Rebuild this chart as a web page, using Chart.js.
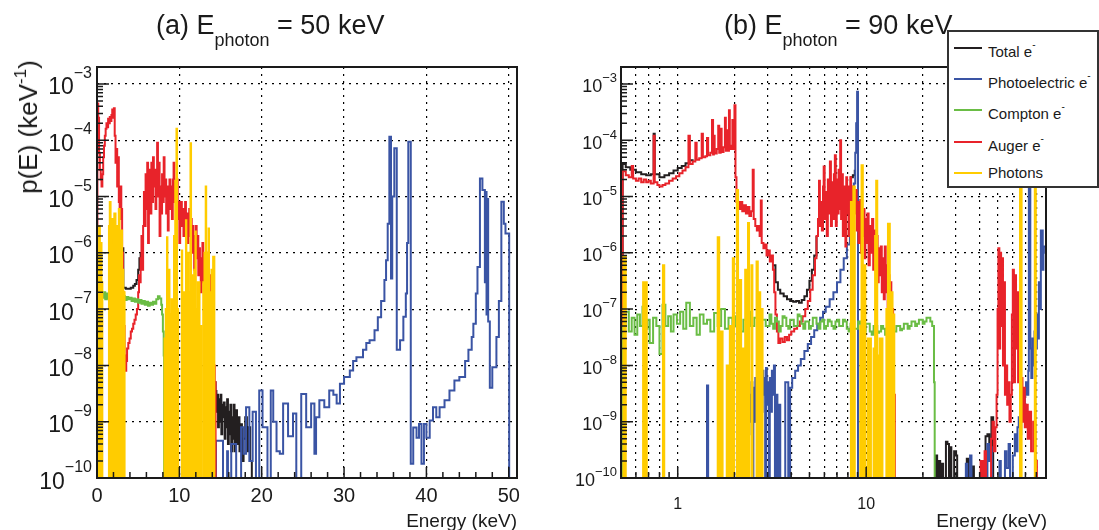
<!DOCTYPE html>
<html>
<head>
<meta charset="utf-8">
<script src="https://cdn.jsdelivr.net/npm/chart.js@4.4.1/dist/chart.umd.min.js"></script>
<style>
  html, body { margin: 0; padding: 0; background: #fff; }
  body { width: 1099px; height: 530px; position: relative; overflow: hidden;
         font-family: "Liberation Sans", Arial, Helvetica, sans-serif; color: #1a1a1a; }
  canvas { position: absolute; top: 0; }
  #chartA { left: 0; }
  #chartB { left: 540px; }
  .title { position: absolute; top: 12px; font-size: 27px; line-height: 27px; white-space: nowrap; }
  .title .sub { font-size: 18px; position: relative; top: 12px; }
  .xtitle { position: absolute; top: 511px; font-size: 19px; line-height: 19px; white-space: nowrap; text-align: right; }
  .ytitle { position: absolute; left: 30px; top: 127px; font-size: 26px; line-height: 26px; white-space: nowrap;
            transform: translate(-50%, -50%) rotate(-90deg); }
  .ytitle .sup { font-size: 17px; position: relative; top: -11px; }
  .ylab { position: absolute; white-space: nowrap; text-align: right; }
  #legend { position: absolute; left: 947px; top: 30px; width: 152px; height: 158px; box-sizing: border-box;
            border: 2px solid #333; background: #fff; z-index: 2; }
  #legend .row { position: absolute; left: 0; height: 20px; line-height: 20px; font-size: 15px; white-space: nowrap; }
  #legend .swatch { position: absolute; left: 5px; top: 9px; width: 28px; height: 2px; }
  #legend .label { position: absolute; left: 39px; top: 0; }
  #legend .label sup { font-size: 10px; position: relative; top: -3px; }
</style>
</head>
<body>
<canvas id="chartA" width="530" height="530"></canvas>
<canvas id="chartB" width="559" height="530"></canvas>

<div class="title" style="left:156px">(a) E<span class="sub">photon</span> = 50 keV</div>
<div class="title" style="left:724px">(b) E<span class="sub">photon</span> = 90 keV</div>
<div class="ytitle">p(E) (keV<span class="sup">-1</span>)</div>
<div class="xtitle" style="right:582px">Energy (keV)</div>
<div class="xtitle" style="right:52px">Energy (keV)</div>

<div id="legend">
  <div class="row" style="top:6px"><span class="swatch" style="background:#231f20"></span><span class="label">Total e<sup>-</sup></span></div>
  <div class="row" style="top:37px"><span class="swatch" style="background:#3a54a4"></span><span class="label">Photoelectric e<sup>-</sup></span></div>
  <div class="row" style="top:68px"><span class="swatch" style="background:#6abd45"></span><span class="label">Compton e<sup>-</sup></span></div>
  <div class="row" style="top:100px"><span class="swatch" style="background:#e8232a"></span><span class="label">Auger e<sup>-</sup></span></div>
  <div class="row" style="top:131px"><span class="swatch" style="background:#ffcc00"></span><span class="label">Photons</span></div>
</div>

<script>
// ---- axis settings ----
const Y_MIN = 1e-10;
const Y_MAX = 2e-3;
const yDecades = [1e-10, 1e-9, 1e-8, 1e-7, 1e-6, 1e-5, 1e-4, 1e-3];
const xTicksA = [0, 10, 20, 30, 40, 50];
const xGridB = [0.6, 0.7, 0.8, 1, 2, 3, 4, 5, 6, 7, 8, 9, 10, 20, 30, 40, 50, 60, 70, 80];
const xLabelsB = [1, 10];

// ---- (a) E_photon = 50 keV : bin left edges (keV) and p(E) (1/keV) ----
const aTotalE = [3.1, 3.2, 3.5, 3.8, 4.1, 4.4, 4.6, 4.8, 5.0, 5.15,
  5.3, 5.35, 14.3, 14.4, 14.5, 14.6, 14.7, 14.8, 14.9, 15.0,
  15.1, 15.2, 15.3, 15.4, 15.5, 15.6, 15.7, 15.8, 15.9, 16.0,
  16.1, 16.2, 16.3, 16.4, 16.5, 16.6, 16.7, 16.8, 16.9, 17.0,
  17.1, 17.3, 17.4, 17.6, 17.8, 18.0, 18.2, 18.4, 18.6, 18.8,
  18.9];
const aTotalP = [1.2e-6, 2.4e-7, 2.3e-7, 2.3e-7, 2.4e-7, 2.6e-7, 2.8e-7, 3.3e-7, 5e-7, 8e-7,
  1e-6, null, 5e-9, 3.5e-9, 1.5e-9, 3e-9, 8e-10, 2.5e-9, 1e-9, 3e-9,
  6e-10, 2e-9, 1.2e-9, 2.2e-9, 5e-10, 1.8e-9, 8e-10, 2.5e-9, 4e-10, 1.5e-9,
  6e-10, 2e-9, 3e-10, 1.2e-9, 5e-10, 2e-9, 3e-10, 1e-9, 1.6e-9, 4e-10,
  1.2e-9, 3e-10, 9e-10, 2e-10, 5e-10, 1.2e-9, 3e-10, 8e-10, 2e-10, 0,
  null];

const aPhotoE = [0, 13.15, 13.5, 14.45, 15.3, 15.8, 15.9, 16.3, 16.9, 17.5,
  17.8, 18.1, 18.5, 18.9, 19.3, 19.7, 20.1, 20.7, 21.1, 21.4,
  21.8, 22.2, 22.6, 23.2, 23.8, 24.2, 24.8, 25.4, 26.0, 26.4,
  26.6, 27.0, 27.6, 28.2, 28.7, 29.1, 29.5, 30.0, 30.7, 31.1,
  31.5, 32.3, 32.7, 33.1, 33.7, 34.1, 34.5, 34.9, 35.1, 35.3,
  35.5, 35.7, 35.85, 36.1, 36.4, 36.8, 37.2, 37.5, 37.65, 37.8,
  38.1, 38.4, 38.8, 39.1, 39.4, 39.7, 40.0, 40.4, 40.8, 41.2,
  41.6, 42.2, 42.8, 43.4, 44.0, 44.7, 45.1, 45.5, 45.7, 46.0,
  46.2, 46.5, 46.8, 47.1, 47.2, 47.3, 47.4, 47.5, 47.7, 48.0,
  48.5, 48.8, 49.1, 49.4, 49.6, 50.05, 51];
const aPhotoP = [0, 5.3e-10, 0, 4.6e-10, 0, 3e-10, 0, 4e-10, 0, 8e-10,
  2.7e-10, 1.8e-9, 2e-10, 1.5e-9, 0, 3.6e-9, 8e-10, 0, 3.6e-9, 1e-9,
  3e-10, 2.7e-10, 2.1e-9, 5.5e-10, 1.4e-9, 0, 3.1e-9, 8e-10, 2.1e-9, 2.7e-10,
  1.2e-9, 2.4e-9, 1.8e-9, 3.6e-9, 3e-9, 2.1e-9, 4.7e-9, 6.2e-9, 8.1e-9, 1.2e-8,
  1.4e-8, 1.9e-8, 2.5e-8, 2.8e-8, 4.2e-8, 7.2e-8, 1.4e-7, 3.3e-7, 7.4e-7, 3.3e-6,
  1.15e-4, 3.5e-7, 1e-5, 7.2e-5, 1.9e-8, 2.8e-8, 7.3e-8, 1.9e-7, 1.5e-6, 9.4e-5,
  1.8e-10, 7.9e-10, 5.2e-10, 9.1e-10, 1.8e-10, 9.1e-10, 5.2e-10, 1.05e-9, 1.8e-9, 1.2e-9,
  1.8e-9, 2.4e-9, 3.6e-9, 5.4e-9, 6.2e-9, 1.2e-8, 1.9e-8, 3.2e-8, 5.5e-8, 1.9e-7,
  5.6e-7, 2.1e-5, 1.3e-5, 3e-7, 1.2e-5, 8e-8, 9e-6, 6e-8, 4e-9, 9.3e-9,
  3.2e-8, 1.4e-7, 8.1e-6, 3.3e-6, 2.2e-6, 0, 0];

const aComptonE = [0, 0.1, 0.2, 0.3, 0.4, 0.5, 0.6, 0.8, 1.0, 1.2,
  1.4, 1.6, 1.8, 2.0, 2.2, 2.4, 2.6, 2.8, 3.0, 3.2,
  3.4, 3.6, 3.8, 4.0, 4.2, 4.4, 4.6, 4.8, 5.0, 5.2,
  5.4, 5.6, 5.8, 6.0, 6.2, 6.4, 6.6, 6.8, 7.0, 7.2,
  7.4, 7.6, 7.8, 7.9, 8.0, 8.1, 8.15, 51];
const aComptonP = [1.5e-7, 2.2e-7, 8e-8, 2.4e-7, 1.3e-7, 2.1e-7, 1.6e-7, 2e-7, 1.5e-7, 1.9e-7,
  1.6e-7, 1.8e-7, 1.5e-7, 1.8e-7, 1.6e-7, 1.7e-7, 1.5e-7, 1.75e-7, 1.55e-7, 1.7e-7,
  1.45e-7, 1.65e-7, 1.5e-7, 1.6e-7, 1.4e-7, 1.55e-7, 1.35e-7, 1.5e-7, 1.3e-7, 1.45e-7,
  1.25e-7, 1.4e-7, 1.2e-7, 1.35e-7, 1.15e-7, 1.3e-7, 1.2e-7, 1.35e-7, 1.25e-7, 1.5e-7,
  1.7e-7, 1.55e-7, 1.2e-7, 8e-8, 4e-8, 1.5e-8, 0, 0];

const aAugerE = [0, 0.05, 0.15, 0.25, 0.35, 0.45, 0.55, 0.65, 0.75, 0.85,
  0.95, 1.05, 1.15, 1.25, 1.35, 1.45, 1.55, 1.65, 1.75, 1.85,
  1.95, 2.05, 2.15, 2.25, 2.35, 2.45, 2.55, 2.65, 2.75, 2.85,
  2.95, 3.05, 3.15, 3.25, 3.35, 3.45, 3.55, 3.65, 3.8, 3.95,
  4.1, 4.25, 4.4, 4.55, 4.7, 4.85, 5.0, 5.1, 5.2, 5.3,
  5.4, 5.5, 5.6, 5.7, 5.8, 5.9, 6.0, 6.1, 6.2, 6.3,
  6.4, 6.5, 6.6, 6.7, 6.8, 6.9, 7.0, 7.1, 7.2, 7.3,
  7.4, 7.5, 7.6, 7.7, 7.8, 7.9, 8.0, 8.1, 8.2, 8.3,
  8.4, 8.5, 8.6, 8.7, 8.8, 8.9, 9.0, 9.1, 9.2, 9.3,
  9.4, 9.5, 9.6, 9.7, 9.8, 9.9, 10.0, 10.1, 10.2, 10.3,
  10.4, 10.5, 10.6, 10.7, 10.8, 10.9, 11.0, 11.1, 11.2, 11.3,
  11.4, 11.5, 11.6, 11.7, 11.8, 11.9, 12.0, 12.1, 12.2, 12.3,
  12.4, 12.5, 12.6, 12.7, 12.8, 12.9, 13.0, 13.1, 13.2, 13.3,
  13.4, 13.5, 13.6, 13.7, 13.8, 13.9, 14.0, 14.1, 14.2, 14.3,
  14.4];
const aAugerP = [0, 4.5e-4, 2.5e-4, 6e-5, 3e-5, 2e-5, 1.5e-5, 2.5e-5, 5e-5, 8e-5,
  1.2e-4, 1.6e-4, 2e-4, 1.7e-4, 2.4e-4, 2e-4, 2.6e-4, 2.2e-4, 2.8e-4, 3.5e-4,
  2.5e-4, 3.7e-4, 1.2e-4, 4e-5, 7e-5, 1.5e-5, 5e-5, 8e-6, 4e-6, 1.5e-5,
  6e-6, 1e-6, 2e-7, 5e-8, 1.5e-8, 8e-9, 1.2e-8, 2e-8, 2.5e-8, 3e-8,
  4e-8, 4.5e-8, 5.5e-8, 6.5e-8, 8e-8, 1e-7, 2e-7, 4e-7, 3e-7, 8e-7,
  2e-6, 5e-7, 3e-6, 1.2e-5, 3e-6, 2.5e-5, 6e-6, 4e-5, 1.5e-6, 1e-5,
  3e-5, 5e-6, 4e-5, 8e-6, 5e-5, 1.5e-5, 3e-5, 6e-6, 2e-5, 9e-5,
  1e-5, 4e-5, 2e-6, 1.5e-5, 5e-6, 2.5e-5, 8e-6, 5e-5, 1e-5, 2e-5,
  5e-6, 1.5e-5, 2.5e-6, 1e-5, 2e-5, 6e-6, 1.5e-5, 4e-6, 2e-5, 4e-5,
  8e-6, 1.5e-5, 5e-6, 2e-5, 4e-6, 8e-6, 1.5e-6, 5e-6, 8e-6, 3e-6,
  6e-6, 2e-6, 5e-6, 8e-6, 3e-6, 5e-6, 1.5e-6, 4e-6, 6e-6, 2e-6,
  4e-6, 1e-6, 3e-6, 2e-6, 5e-7, 1.5e-6, 3e-6, 8e-7, 2e-6, 4e-7,
  1.2e-6, 5e-7, 2e-7, 8e-7, 1.5e-6, 3e-7, 8e-7, 1.5e-7, 5e-7, 1e-6,
  2e-7, 6e-7, 1e-7, 4e-7, 5e-8, 2e-7, 1e-7, 3e-8, 1e-8, 5e-9,
  0];

const aPhotonE = [0, 0.15, 0.25, 0.35, 0.45, 0.55, 0.65, 1.45, 1.55, 1.65,
  1.8, 1.95, 2.1, 2.25, 2.4, 2.55, 2.65, 2.75, 2.9, 3.05,
  3.2, 3.35, 8.2, 8.35, 8.5, 8.55, 8.75, 8.8, 9.05, 9.2,
  9.35, 9.4, 9.5, 9.55, 9.65, 9.72, 9.85, 10.3, 10.35, 10.6,
  10.8, 10.85, 11.05, 11.1, 11.35, 11.42, 11.6, 11.8, 11.95, 12.0,
  12.25, 12.45, 12.65, 12.9, 13.05, 13.1, 13.2, 13.26, 13.45, 13.55,
  13.6, 13.9, 14.1, 14.25, 51];
const aPhotonP = [0, 1e-6, 3e-6, 8e-7, 1.5e-6, 3e-7, 0, 3e-6, 8e-6, 2e-6,
  4e-6, 1.5e-6, 5e-6, 1.2e-6, 3e-6, 8e-7, 6e-6, 1e-6, 2.5e-6, 5e-7,
  2e-7, 0, 3e-8, 1e-7, 1.9e-6, 1e-7, 5e-7, 8e-8, 1.5e-7, 6e-8,
  2e-6, 1e-7, 1.9e-5, 2e-7, 1.6e-4, 1e-7, 0, 1.1e-6, 2e-7, 5e-8,
  3.8e-6, 3e-7, 1e-6, 2e-7, 8.8e-5, 4e-7, 2e-7, 5e-7, 2.4e-6, 1e-7,
  3e-7, 5e-8, 0, 3e-7, 1e-6, 2e-7, 1.5e-5, 4e-7, 1e-6, 2.7e-6,
  2e-7, 5e-7, 8.5e-7, 0, 0];

// ---- (b) E_photon = 90 keV ----
const bTotalE = [0.5, 0.51, 0.53, 0.56, 0.6, 0.64, 0.68, 0.72, 0.745, 0.755,
  0.8, 0.85, 0.9, 0.95, 1.0, 1.05, 1.1, 1.15, 1.2, 1.22,
  3.2, 3.3, 3.4, 3.5, 3.65, 3.8, 3.95, 4.1, 4.25, 4.4,
  4.55, 4.7, 4.85, 5.0, 5.15, 5.3, 5.45, 5.5, 8.2, 8.3,
  8.5, 8.7, 8.8, 23.3, 23.4, 23.8, 24.3, 24.7, 25.2, 25.6,
  26.5, 27.0, 27.5, 27.8, 28.3, 29.3, 30.0, 30.4, 30.5, 33.5,
  34.2, 35.0, 36.5, 37.3, 43.0, 44.0, 45.0, 46.2, 47.2, 47.3];
const bTotalP = [0, 3.8e-5, 3.3e-5, 3e-5, 2.7e-5, 2.5e-5, 2.4e-5, 2.5e-5, 1.3e-4, 2.5e-5,
  2.2e-5, 2.4e-5, 2.6e-5, 2.9e-5, 3.2e-5, 3.5e-5, 3.9e-5, 4.4e-5, 4.6e-5, null,
  6e-7, 3e-7, 2.2e-7, 1.9e-7, 1.7e-7, 1.5e-7, 1.4e-7, 1.35e-7, 1.4e-7, 1.3e-7,
  1.45e-7, 1.7e-7, 2.2e-7, 3.2e-7, 5e-7, 9e-7, 2e-6, null, 8e-6, 2.2e-5,
  2.4e-5, 3e-5, null, 0, 2.5e-10, 0, 2e-10, 0, 1.8e-10, 0,
  4.4e-10, 4e-10, 0, 3.5e-10, 0, 3e-10, 2.5e-10, 0, null, 0,
  2.2e-10, 0, 1.6e-10, 0, 5.5e-10, 6e-10, 3e-10, 1.2e-9, 0, null];

const bPhotoE = [0.5, 1.43, 1.45,
  2.07, 2.1, 2.13, 2.16, 2.19, 2.22, 2.25, 2.28, 2.31, 2.34,
  2.37, 2.4, 2.43, 2.46, 2.49, 2.52, 2.55, 2.58, 2.61, 2.64,
  2.67, 2.7, 2.73, 2.76, 2.79, 2.82, 2.85, 2.88, 2.91, 2.94,
  2.97, 3.0, 3.04, 3.08, 3.12, 3.16, 3.2, 3.24, 3.28, 3.33,
  3.38, 3.45, 3.5,
  3.72, 3.86, 3.95, 4.05, 4.2, 4.35, 4.5, 4.7, 4.9, 5.1,
  5.3, 5.5, 5.7, 5.9, 6.1, 6.4, 6.7, 7.0, 7.3, 7.6,
  7.9, 8.2, 8.4, 8.6, 8.75, 8.85, 8.95, 9.05, 33.8, 34.4,
  35.6, 36.2, 44.0, 44.8, 45.6, 46.4, 51.0, 51.8, 54.5, 55.5,
  57.0, 58.0, 60.0, 61.5, 62.5, 63.5, 64.5, 65.5, 66.5, 67.5,
  68.5, 69.5, 70.5, 71.5, 72.5, 73.0, 74.3, 75.2, 76.2, 77.2,
  78.2, 79.3, 80.5, 81.5, 82.5, 83.5, 84.5, 86.5, 87.2, 89.5,
  90];
const bPhotoP = [0, 4.4e-9, 0,
  2e-9, 0, 1.5e-9, 3e-10, 2.5e-9, 0, 1.2e-9, 3e-9, 0, 2e-9,
  6e-10, 3e-9, 1e-9, 5e-9, 0, 4e-9, 1e-9, 6e-9, 2e-9, 7e-9,
  0, 5e-9, 2e-9, 6e-9, 1.5e-9, 8e-9, 3e-9, 6e-9, 0, 9e-9,
  2e-9, 5e-9, 0, 6e-9, 1.5e-9, 8e-9, 3e-9, 1e-8, 0, 3e-9,
  0, 2e-9, 0,
  5e-9, 0, 4e-9, 6e-9, 8e-9, 1e-8, 1.3e-8, 1.8e-8, 2.4e-8, 3.2e-8,
  4.2e-8, 5.5e-8, 7e-8, 9e-8, 1.1e-7, 1.5e-7, 2e-7, 3e-7, 5e-7, 8e-7,
  1.4e-6, 3e-6, 7e-6, 1.7e-5, 6e-5, 2e-4, 7.3e-4, 0, 1.8e-10, 0,
  2.5e-10, 0, 4e-10, 2e-10, 3.5e-10, 0, 2e-10, 0, 3e-10, 1.5e-10,
  4e-10, 0, 2.5e-10, 6e-10, 3e-10, 8e-10, 1.2e-9, 6e-10, 1.5e-9, 2.5e-9,
  1.2e-9, 3e-9, 5e-9, 3e-9, 8e-9, 5e-5, 2e-8, 6e-9, 3e-8, 1e-8,
  4e-8, 2e-8, 8e-8, 3e-8, 3e-7, 1e-7, 2.5e-6, 5e-7, 1.3e-6, 1e-6,
  0];

const bComptonE = [0.5, 0.51, 0.53, 0.55, 0.57, 0.59, 0.61, 0.63, 0.65, 0.67,
  0.69, 0.71, 0.74, 0.77, 0.8, 0.83, 0.86, 0.89, 0.92, 0.95,
  0.99, 1.03, 1.07, 1.11, 1.16, 1.21, 1.26, 1.31, 1.37, 1.43,
  1.49, 1.56, 1.63, 1.7, 1.78, 1.86, 1.95, 2.04, 2.13, 2.23,
  2.33, 2.44, 2.55, 2.67, 2.8, 2.93,
  3.07, 3.14, 3.21, 3.28, 3.36, 3.44, 3.52, 3.6, 3.69, 3.77,
  3.86, 3.95, 4.04, 4.13, 4.23, 4.33, 4.43, 4.53, 4.64, 4.75,
  4.86, 4.97, 5.09, 5.21, 5.33, 5.45, 5.58, 5.71, 5.84, 5.98,
  6.12, 6.26, 6.41, 6.56, 6.71, 6.87, 7.03, 7.19, 7.36, 7.53,
  7.71, 7.89, 8.07, 8.26, 8.45, 8.65, 8.85, 9.06, 9.27, 9.49,
  9.71, 9.94, 10.2, 10.45, 10.7, 10.95, 11.2, 11.45, 11.7, 12.0,
  12.3, 12.6, 12.9, 13.2, 13.5, 13.8, 14.1, 14.45, 14.8, 15.15,
  15.5, 15.85, 16.2, 16.6, 17.0, 17.4, 17.8, 18.2, 18.6, 19.05,
  19.5, 19.95, 20.4, 20.9, 21.4, 21.9, 22.4, 22.9, 23.1, 90];
const bComptonP = [0, 5e-8, 9e-8, 4e-8, 7e-8, 3.5e-8, 8e-8, 5e-8, 1.1e-7, 4.5e-8,
  6.5e-8, 2.5e-8, 7e-8, 5e-8, 1.6e-8, 1.2e-7, 5e-8, 7.5e-8, 4e-8, 8e-8,
  5.5e-8, 9e-8, 4.5e-8, 1.3e-7, 5e-8, 7e-8, 3.5e-8, 8e-8, 5.5e-8, 6.5e-8,
  4e-8, 8.5e-8, 5e-8, 1e-7, 4.5e-8, 7e-8, 5e-8, 7.5e-8, 4e-8, 6.5e-8,
  9e-8, 5e-8, 7e-8, 4.5e-8, 6.5e-8, 5e-8,
  8e-8, 5.5e-8, 4.5e-8, 7e-8, 6e-8, 4e-8, 5e-8, 7.5e-8, 7e-8, 5e-8,
  4.5e-8, 6.5e-8, 6.5e-8, 5e-8, 5e-8, 8e-8, 7.5e-8, 5.5e-8, 4.5e-8, 6e-8,
  6e-8, 4.5e-8, 5e-8, 7e-8, 7e-8, 5.5e-8, 4.5e-8, 6e-8, 6.5e-8, 4.5e-8,
  5e-8, 6.5e-8, 6e-8, 5e-8, 4.5e-8, 6e-8, 6.5e-8, 5e-8, 5e-8, 6.5e-8,
  6e-8, 4.5e-8, 4e-8, 5.5e-8, 6e-8, 4.5e-8, 4.5e-8, 6e-8, 5.5e-8, 4e-8,
  4e-8, 5.5e-8, 5.5e-8, 4e-8, 3.5e-8, 5e-8, 5e-8, 3.8e-8, 4e-8, 5e-8,
  4.5e-8, 3.5e-8, 3.5e-8, 4.5e-8, 5e-8, 4e-8, 4e-8, 5e-8, 5e-8, 4.2e-8,
  4.5e-8, 5.5e-8, 5.5e-8, 4.5e-8, 5e-8, 6e-8, 6e-8, 5e-8, 5.5e-8, 6.5e-8,
  6.5e-8, 5.5e-8, 6e-8, 7e-8, 7e-8, 6e-8, 5e-8, 5e-9, 0, 0];

const bAugerE = [0.5, 0.51, 0.53, 0.55, 0.57, 0.58, 0.6, 0.62, 0.64, 0.66,
  0.68, 0.7, 0.72, 0.745, 0.755, 0.78, 0.8, 0.83, 0.86, 0.9,
  0.94, 0.98, 1.02, 1.06, 1.1, 1.14, 1.16, 1.2, 1.24, 1.26,
  1.3, 1.34, 1.36, 1.4, 1.43, 1.45, 1.49, 1.52, 1.54, 1.555,
  1.57, 1.61, 1.64, 1.66, 1.69, 1.71, 1.75, 1.78, 1.8, 1.83,
  1.85, 1.87, 1.89, 1.93, 1.95, 1.97, 2.0, 2.025, 2.05, 2.1,
  2.15, 2.2, 2.25, 2.3, 2.35, 2.4, 2.45, 2.5, 2.53, 2.58,
  2.63, 2.68, 2.72, 2.76, 2.79, 2.85, 2.9, 2.96, 3.02, 3.08,
  3.14, 3.2, 3.25, 3.3, 3.36, 3.42, 3.5, 3.6, 3.7, 3.8,
  3.9, 4.0, 4.15, 4.3, 4.45, 4.6, 4.75, 4.9, 5.05, 5.2,
  5.35, 5.45, 5.55, 5.62, 5.68, 5.75, 5.82, 5.9, 5.95, 6.02,
  6.1, 6.18, 6.26, 6.34, 6.42, 6.5, 6.58, 6.66, 6.74, 6.82,
  6.9, 6.98, 7.06, 7.14, 7.22, 7.28, 7.36, 7.44, 7.52, 7.6,
  7.68, 7.76, 7.84, 7.92, 8.0, 8.08, 8.16, 8.24, 8.32, 8.4,
  8.5, 8.6, 8.7, 8.8, 8.9, 9.0, 9.1, 9.2, 9.3, 9.4,
  9.5, 9.6, 9.7, 9.8, 9.9, 10.0, 10.15, 10.3, 10.45, 10.6,
  10.75, 10.9, 11.05, 11.2, 11.35, 11.5, 11.65, 11.8, 11.95, 12.1,
  12.25, 12.4, 12.55, 12.7, 12.85, 13.0, 13.15, 13.3, 13.45, 13.6,
  13.75, 13.9, 14.05, 14.2, 14.25, 40.0, 40.5, 41.5, 42.5, 43.2,
  46.0, 46.8, 47.6, 48.5, 49.2, 49.8, 50.3, 50.9, 51.4, 52.0,
  52.6, 53.2, 53.8, 54.5, 55.3, 56.0, 56.8, 57.6, 58.5, 59.3,
  60.0, 60.8, 61.6, 62.4, 63.2, 64.0, 64.8, 65.5, 66.5, 67.5,
  68.5, 69.5, 70.5, 72.0, 73.5, 75.0, 77.0, 79.0, 80.5];
const bAugerP = [0, 2.8e-5, 2.4e-5, 2.2e-5, 3.5e-5, 2.1e-5, 1.9e-5, 2.1e-5, 1.8e-5, 2e-5,
  1.8e-5, 1.9e-5, 1.7e-5, 1.2e-4, 1.8e-5, 1.6e-5, 1.5e-5, 1.6e-5, 1.7e-5, 1.9e-5,
  2.1e-5, 2.3e-5, 2.6e-5, 2.9e-5, 3.3e-5, 1.2e-4, 3.8e-5, 4.2e-5, 9e-5, 4.5e-5,
  4.8e-5, 1.3e-4, 5e-5, 5.2e-5, 1.1e-4, 5.4e-5, 6e-5, 2.3e-4, 5.6e-5, 1.2e-4,
  5.8e-5, 7e-5, 1.8e-4, 6e-5, 1.6e-4, 6.2e-5, 7.5e-5, 2.5e-4, 6.5e-5, 1.5e-4,
  6.5e-5, 3.4e-4, 7e-5, 8e-5, 2.3e-4, 7e-5, 4.2e-4, 2.2e-5, 8e-6, 6e-6,
  8e-6, 5.5e-6, 7e-6, 5e-6, 6.5e-6, 4.5e-6, 5.5e-6, 3e-5, 4e-6, 3e-6,
  2.5e-6, 3e-6, 2e-6, 8.5e-6, 1.5e-6, 1.2e-6, 1.4e-6, 9e-7, 1.1e-6, 7e-7,
  9e-7, 5e-7, 2e-7, 8e-8, 4e-8, 2.5e-8, 3e-8, 2.6e-8, 3.2e-8, 2.8e-8,
  3.5e-8, 4e-8, 4.5e-8, 5e-8, 6e-8, 7.5e-8, 1e-7, 1.4e-7, 2.2e-7, 4e-7,
  8e-7, 2e-6, 4e-6, 1.9e-5, 3e-6, 8e-6, 2.5e-6, 1.5e-5, 3.4e-5, 4e-6,
  1.2e-5, 2e-6, 2e-5, 5e-6, 4.2e-5, 3e-6, 1.8e-5, 4e-6, 2.5e-5, 5.4e-5,
  3e-6, 2e-5, 5e-6, 3e-5, 6e-6, 1e-4, 4e-6, 2.5e-5, 2e-6, 1.5e-5,
  4e-6, 1.3e-6, 2.2e-5, 5e-6, 1.5e-5, 2e-6, 1e-5, 2.2e-5, 4e-6, 1.5e-5,
  3e-6, 1e-5, 5e-6, 1.3e-5, 2.5e-6, 8e-6, 1.5e-6, 6e-6, 8.7e-6, 1e-6,
  5e-6, 2e-6, 6e-6, 8e-7, 4e-6, 1.5e-6, 5e-6, 6e-7, 3e-6, 1e-6,
  4e-6, 5e-7, 2.5e-6, 8e-7, 2e-6, 3e-7, 1.2e-6, 4e-7, 1.3e-6, 2e-7,
  8e-7, 1.5e-7, 1.3e-6, 2e-7, 6e-7, 8e-8, 4e-7, 1e-7, 3e-7, 3e-8,
  1e-7, 1e-8, 3e-9, 0, null, 0, 2e-10, 0, 3e-10, 0,
  5e-10, 1e-9, 3e-10, 8e-10, 3e-9, 1e-7, 1.2e-6, 2e-8, 1e-6, 5e-8,
  8e-7, 1e-8, 3e-7, 3e-9, 1e-8, 2e-9, 5e-9, 1e-9, 3e-9, 8e-8,
  5e-7, 5e-9, 4e-7, 2e-8, 2e-7, 5e-9, 1e-8, 3e-9, 6e-9, 1e-9,
  4e-9, 8e-10, 2e-9, 5e-10, 1.5e-9, 3e-10, 1e-9, 2e-10, 0];

const bPhotonE = [0.5, 0.515, 0.53, 0.655, 0.685, 0.835, 0.848, 1.63, 1.66, 1.7,
  1.73, 1.82, 1.85, 1.89, 1.92, 1.96, 1.99, 2.06, 2.09, 2.12,
  2.14, 2.17, 2.21, 2.24, 2.28, 2.31, 2.36, 2.39, 2.46, 2.49,
  2.62, 2.66, 2.7, 2.74, 2.78, 2.82, 8.3, 8.4, 8.55, 8.7,
  9.3, 9.45, 9.6, 9.75, 9.9, 10.2, 10.6, 10.95, 11.15, 11.3,
  11.45, 11.8, 12.2, 12.8, 13.05, 13.35, 13.8, 14.1, 65.5, 66.8,
  78.5, 79.5, 90];
const bPhotonP = [0, 8.5e-7, 0, 3e-7, 0, 6e-7, 0, 1.9e-6, 0, 4e-8,
  0, 1e-8, 0, 5e-8, 0, 8e-7, 0, 1.3e-5, 3e-7, 0,
  3.3e-7, 0, 2e-8, 0, 5e-7, 0, 3.4e-6, 0, 6e-7, 0,
  7e-7, 1.5e-7, 2e-7, 0, 1e-7, 0, 8e-6, 2e-8, 1.5e-5, 0,
  5e-8, 3.6e-5, 2e-7, 6e-7, 0, 3e-8, 0, 2e-8, 2e-6, 1.9e-5,
  1.5e-8, 3e-8, 0, 1e-7, 3.3e-6, 2e-7, 8e-8, 0, 4e-5, 0,
  2.5e-5, 0, 0];

// ---- colours ----
const COLORS = { total: '#231f20', photo: '#3a54a4', compton: '#6abd45', auger: '#e8232a', photon: '#ffcc00' };
const FONT = 'Liberation Sans, Arial, Helvetica, sans-serif';

function toPoints(es, ps) {
  return es.map((e, i) => ({ x: e, y: ps[i] === null ? null : Math.max(ps[i], Y_MIN) }));
}

function histSet(es, ps, color, fill) {
  return {
    data: toPoints(es, ps),
    borderColor: color,
    backgroundColor: color,
    borderWidth: 2,
    stepped: true,
    fill: fill ? 'start' : false,
    pointRadius: 0,
    spanGaps: false,
  };
}

// frame + ROOT style inner tick marks
const framePlugin = {
  id: 'frame',
  afterDatasetsDraw(chart, args, opts) {
    const { ctx, chartArea: area } = chart;
    const xs = chart.scales.x, ys = chart.scales.y;
    ctx.save();
    ctx.strokeStyle = '#1a1a1a';
    ctx.lineWidth = 1.5;
    ctx.beginPath();
    for (let e = -10; e <= -3; e++) {
      for (let k = 1; k <= 9; k++) {
        const v = k * Math.pow(10, e);
        if (v > ys.max) break;
        const py = ys.getPixelForValue(v);
        ctx.moveTo(area.left, py);
        ctx.lineTo(area.left + (k === 1 ? 12 : 6), py);
      }
    }
    opts.xMajor.forEach(v => {
      const px = xs.getPixelForValue(v);
      ctx.moveTo(px, area.bottom);
      ctx.lineTo(px, area.bottom - 11);
    });
    opts.xMinor.forEach(v => {
      const px = xs.getPixelForValue(v);
      ctx.moveTo(px, area.bottom);
      ctx.lineTo(px, area.bottom - 6);
    });
    ctx.stroke();
    ctx.lineWidth = 2;
    ctx.strokeRect(area.left, area.top, area.right - area.left, area.bottom - area.top);
    ctx.restore();
  }
};

const gridStyle = { color: '#000', lineWidth: 1.2, drawTicks: false };
const borderStyle = { display: false, dash: [2, 5] };

function makeChart(id, cfg) {
  return new Chart(document.getElementById(id), {
    type: 'line',
    data: { datasets: cfg.datasets },
    plugins: [framePlugin],
    options: {
      responsive: false,
      animation: false,
      devicePixelRatio: 1,
      layout: { padding: { left: 0, top: 67, right: cfg.padRight, bottom: 0 } },
      plugins: {
        legend: { display: false },
        tooltip: { enabled: false },
        frame: { xMajor: cfg.xMajor, xMinor: cfg.xMinor },
      },
      scales: {
        x: Object.assign({
          grid: gridStyle,
          border: borderStyle,
          afterFit: s => { s.height = 52; },
        }, cfg.x),
        y: {
          type: 'logarithmic',
          min: Y_MIN,
          max: Y_MAX,
          grid: gridStyle,
          border: borderStyle,
          afterBuildTicks: s => { s.ticks = yDecades.map(v => ({ value: v })); },
          afterFit: s => { s.width = cfg.yWidth; },
          ticks: { display: false },
        },
      },
    },
  });
}

// y tick labels as HTML text: "10" with a raised exponent, placed on the chart's own scale
function addYLabels(chart, canvasLeft, st) {
  const ys = chart.scales.y;
  const rightEdge = canvasLeft + ys.right - st.pad;
  yDecades.forEach(v => {
    const py = ys.getPixelForValue(v);
    const el = document.createElement('div');
    el.className = 'ylab';
    el.style.right = (1099 - rightEdge) + 'px';
    el.style.top = (py + st.drop - 0.8465 * st.font) + 'px';
    el.style.fontSize = st.font + 'px';
    el.style.lineHeight = st.font + 'px';
    const exp = Math.round(Math.log10(v));
    el.innerHTML = '10<span style="font-size:' + st.supFont + 'px;position:relative;top:-' + st.rise +
      'px">\u2212' + Math.abs(exp) + '</span>';
    document.body.appendChild(el);
  });
}

const xMinorA = [];
for (let v = 2; v < 51; v += 2) if (v % 10 !== 0) xMinorA.push(v);

const chartA = makeChart('chartA', {
  padRight: 13, yWidth: 97,
  xMajor: xTicksA, xMinor: xMinorA,
  x: {
    type: 'linear', min: 0, max: 51,
    afterBuildTicks: s => { s.ticks = xTicksA.map(v => ({ value: v })); },
    ticks: {
      autoSkip: false, maxRotation: 0, minRotation: 0,
      color: '#1a1a1a', padding: 6,
      font: { family: FONT, size: 20 },
    },
  },
  datasets: [
    histSet(aPhotonE, aPhotonP, COLORS.photon, true),
    histSet(aComptonE, aComptonP, COLORS.compton),
    histSet(aAugerE, aAugerP, COLORS.auger),
    histSet(aPhotoE, aPhotoP, COLORS.photo),
    histSet(aTotalE, aTotalP, COLORS.total),
  ],
});

const chartB = makeChart('chartB', {
  padRight: 53, yWidth: 81,
  xMajor: xLabelsB, xMinor: [0.6, 0.7, 0.8, 0.9, 2, 3, 4, 5, 6, 7, 8, 9, 20, 30, 40, 50, 60, 70, 80],
  x: {
    type: 'logarithmic', min: 0.5, max: 90,
    afterBuildTicks: s => { s.ticks = xGridB.map(v => ({ value: v })); },
    ticks: {
      autoSkip: false, maxRotation: 0, minRotation: 0,
      color: '#1a1a1a', padding: 17,
      font: { family: FONT, size: 16 },
      callback: v => (xLabelsB.includes(v) ? String(v) : ''),
    },
  },
  datasets: [
    histSet(bPhotonE, bPhotonP, COLORS.photon, true),
    histSet(bComptonE, bComptonP, COLORS.compton),
    histSet(bAugerE, bAugerP, COLORS.auger),
    histSet(bPhotoE, bPhotoP, COLORS.photo),
    histSet(bTotalE, bTotalP, COLORS.total),
  ],
});

addYLabels(chartA, 0, { pad: 5, font: 23, supFont: 16, rise: 16.5, drop: 11 });
addYLabels(chartB, 540, { pad: 4, font: 18, supFont: 13, rise: 10, drop: 8.5 });
</script>
</body>
</html>
